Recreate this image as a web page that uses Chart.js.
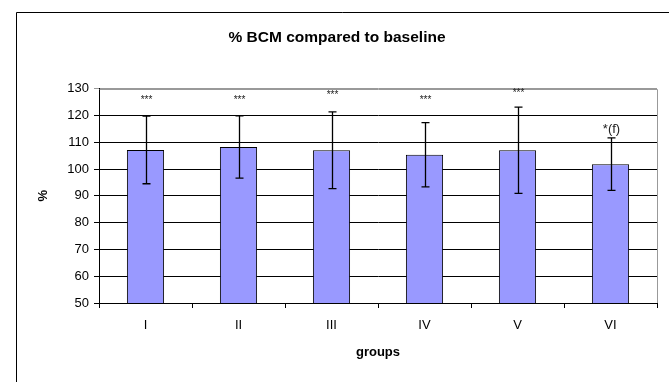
<!DOCTYPE html>
<html>
<head>
<meta charset="utf-8">
<script src="https://cdn.jsdelivr.net/npm/chart.js@4/dist/chart.umd.min.js"></script>
<style>
    html, body { margin: 0; padding: 0; background: #fff; }
    #wrap { width: 669px; height: 382px; position: relative; }
</style>
</head>
<body>
<div id="wrap"><canvas id="bcmChart"></canvas></div>
<script>
// data
const groups = ['I', 'II', 'III', 'IV', 'V', 'VI'];
const bcmMean = [107.1, 108.2, 107.0, 105.3, 107.0, 101.8];
const bcmSd = [12.6, 11.6, 14.3, 12.0, 16.1, 9.8];
const marks = ['***', '***', '***', '***', '***', '*(f)'];
const markLevel = [125.6, 125.6, 127.7, 125.6, 128.4, 114.8];
const yTicks = [50, 60, 70, 80, 90, 100, 110, 120, 130];

const FONT = 'Liberation Sans, Arial, sans-serif';

// frame around the whole chart (left/top edges visible)
const frame = {
    id: 'frame',
    beforeDraw(chart) {
        const ctx = chart.ctx;
        ctx.save();
        ctx.fillStyle = '#fff';
        ctx.fillRect(0, 0, chart.width, chart.height);
        ctx.strokeStyle = '#000';
        ctx.lineWidth = 1;
        ctx.beginPath();
        ctx.moveTo(16.5, chart.height);
        ctx.lineTo(16.5, 12.5);
        ctx.lineTo(chart.width, 12.5);
        ctx.stroke();
        ctx.restore();
    }
};

// plot area border (grey top/right), error bars and significance marks
const extras = {
    id: 'extras',
    afterDatasetsDraw(chart) {
        const ctx = chart.ctx;
        const area = chart.chartArea;
        const y = chart.scales.y;
        const meta = chart.getDatasetMeta(0);
        ctx.save();
        ctx.strokeStyle = '#999';
        ctx.lineWidth = 1;
        ctx.beginPath();
        ctx.moveTo(Math.round(area.left) + 0.5, Math.round(area.top) + 0.5);
        ctx.lineTo(Math.round(area.right) + 0.5, Math.round(area.top) + 0.5);
        ctx.lineTo(Math.round(area.right) + 0.5, Math.round(area.bottom));
        ctx.stroke();

        ctx.strokeStyle = '#000';
        ctx.lineWidth = 1.3;
        meta.data.forEach((bar, i) => {
            const x = Math.round(bar.x) + 0.5;
            const hi = y.getPixelForValue(bcmMean[i] + bcmSd[i]);
            const lo = y.getPixelForValue(bcmMean[i] - bcmSd[i]);
            ctx.beginPath();
            ctx.moveTo(x, hi);
            ctx.lineTo(x, lo);
            ctx.moveTo(x - 4, hi);
            ctx.lineTo(x + 4, hi);
            ctx.moveTo(x - 4, lo);
            ctx.lineTo(x + 4, lo);
            ctx.stroke();

            ctx.fillStyle = '#222';
            ctx.textAlign = 'center';
            ctx.textBaseline = 'middle';
            ctx.font = marks[i] === '***' ? '10px ' + FONT : '13px ' + FONT;
            ctx.fillText(marks[i], x, y.getPixelForValue(markLevel[i]));
        });
        ctx.restore();
    }
};

const ctx = document.getElementById('bcmChart');
new Chart(ctx, {
    type: 'bar',
    data: {
        labels: groups,
        datasets: [{
            label: '% BCM',
            data: bcmMean,
            backgroundColor: '#9999ff',
            borderColor: '#000',
            borderWidth: 1,
            barPercentage: 0.4,
            categoryPercentage: 1
        }]
    },
    options: {
        responsive: true,
        maintainAspectRatio: false,
        animation: false,
        layout: {
            padding: { left: 17, right: 12, top: 0, bottom: 0 }
        },
        plugins: {
            legend: { display: false },
            tooltip: { enabled: false },
            title: {
                display: true,
                text: '% BCM compared to baseline',
                color: '#000',
                font: { family: FONT, size: 15.5, weight: 'bold' },
                padding: { top: 28, bottom: 42 }
            }
        },
        scales: {
            x: {
                afterFit(scale) { scale.height = 79; },
                grid: {
                    display: true,
                    offset: true,
                    drawOnChartArea: false,
                    color: '#000',
                    tickLength: 5
                },
                border: { color: '#000', width: 1 },
                ticks: {
                    color: '#000',
                    padding: 10,
                    font: { family: FONT, size: 13 }
                },
                title: {
                    display: true,
                    text: 'groups',
                    color: '#000',
                    font: { family: FONT, size: 13, weight: 'bold' },
                    padding: { top: 0, bottom: 22 }
                }
            },
            y: {
                min: 50,
                max: 130,
                afterFit(scale) { scale.width = 82; },
                afterBuildTicks(scale) {
                    scale.ticks = yTicks.map(v => ({ value: v }));
                },
                grid: {
                    color: c => (c.tick && c.tick.value === 130 ? '#999' : '#000'),
                    tickLength: 5
                },
                border: { color: '#000', width: 1 },
                ticks: {
                    color: '#000',
                    padding: 5,
                    font: { family: FONT, size: 13 }
                },
                title: {
                    display: true,
                    text: '%',
                    color: '#000',
                    font: { family: FONT, size: 13, weight: 'bold' },
                    padding: { top: 19, bottom: 19 }
                }
            }
        }
    },
    plugins: [frame, extras]
});
</script>
</body>
</html>
